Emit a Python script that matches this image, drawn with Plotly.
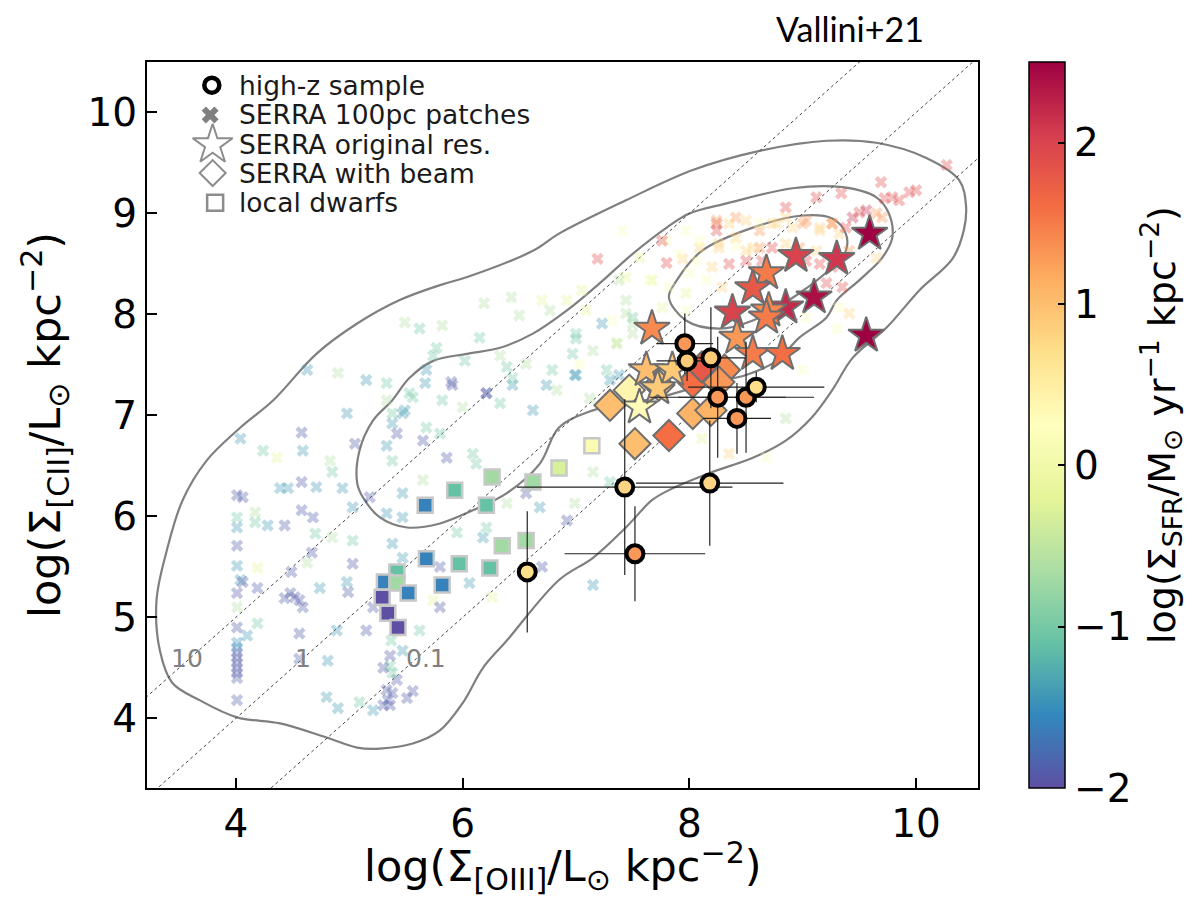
import math
import plotly.graph_objects as go

# ---------------- data ----------------
# SERRA 100pc patches: log Sigma_OIII, log Sigma_CII, log Sigma_SFR
patch_x = [4.98,4.58,4.04,4.24,4.59,4.36,4.83,4.85,5.05,4.58,4.39,4.46,4.71,4.94,4.01,4.06,4.58,4.17,4.01,4.28,
           4.43,4.68,4.17,4.01,4.01,4.70,4.85,5.03,4.67,4.63,4.01,4.19,4.49,4.04,4.06,4.01,4.19,4.48,4.52,4.56,
           4.59,4.43,4.74,4.98,4.99,5.03,4.01,4.01,4.19,4.10,4.56,4.89,5.15,5.21,
           4.01,4.01,4.01,4.01,4.01,4.01,4.01,4.01,4.01,
           4.81,4.56,4.80,4.90,5.09,5.21,5.30,5.36,5.34,5.38,5.33,5.42,5.38,5.36,5.30,5.36,5.47,5.37,5.51,5.56,
           5.33,5.38,5.47,5.56,5.68,5.65,5.38,5.33,5.42,5.80,5.86,6.09,6.12,5.65,5.47,5.38,5.47,5.33,5.18,5.03,
           6.21,5.95,5.38,5.47,5.80,6.06,6.39,6.56,6.68,6.70,6.26,5.74,5.80,5.62,6.18,5.91,6.21,6.44,
           7.41,7.19,7.80,7.94,7.80,7.44,7.05,6.70,6.92,6.43,6.19,6.50,6.77,5.49,5.62,5.82,6.15,5.77,5.74,6.02,
           6.33,6.39,6.56,6.79,7.00,7.23,7.32,7.44,7.50,7.15,7.36,7.03,7.09,5.67,5.90,6.21,6.44,6.74,6.99,5.53,
           5.82,6.33,6.62,6.83,5.49,6.00,7.27,7.50,7.65,7.56,
           4.63,4.90,5.15,5.33,5.68,
           7.00,7.36,7.00,7.30,7.38,7.12,6.97,6.92,6.99,7.15,7.30,8.35,8.68,8.85,7.15,8.11,9.00,
           10.27,9.69,9.94,10.00,9.72,9.79,9.85,9.34,9.12,8.85,9.44,9.50,9.56,9.65,9.70,8.24,8.41,8.62,8.77,8.91,
           9.03,9.15,9.26,9.32,8.09,8.26,8.41,8.50,8.62,8.73,
           8.24,8.24,8.35,8.50,8.62,8.73,8.85,9.00,9.15,9.26,9.38,7.97,8.09,7.76,8.26,8.41,8.56,8.85,8.97,9.12,
           9.41,8.35,8.50,8.64,9.03,9.15,9.26,7.91,8.06,8.20,8.00,8.15,8.29,7.67,7.82,7.97,7.76,7.97,7.50,7.44,
           7.38,9.21,9.35,9.03,9.32,9.41,9.65,9.30]
patch_y = [7.02,6.83,6.77,6.65,6.65,6.58,6.55,6.44,6.72,6.34,6.28,6.28,6.29,6.28,6.21,6.19,6.06,6.04,5.99,5.91,
           5.91,5.99,5.94,5.89,5.71,5.83,5.79,5.76,5.64,5.54,5.51,5.49,5.45,5.37,5.35,5.24,5.29,5.24,5.20,5.17,
           5.10,5.19,5.29,5.35,5.25,5.53,5.10,4.90,4.94,4.82,4.84,4.87,4.87,5.10,
           4.75,4.70,4.65,4.60,4.55,4.50,4.45,4.40,4.18,
           4.57,4.59,4.21,4.10,4.16,4.08,4.13,4.13,4.18,4.25,4.28,4.38,4.45,4.52,4.50,4.62,4.67,4.77,4.20,4.27,
           7.15,7.02,7.02,7.18,6.88,6.75,6.92,6.70,6.82,6.82,6.58,6.62,6.52,6.36,6.23,6.55,5.99,6.03,6.19,6.09,
           5.89,5.84,5.73,5.59,5.50,5.34,6.13,6.23,6.09,5.50,5.20,5.17,5.10,4.87,5.79,7.30,7.22,7.30,
           8.83,8.55,8.51,8.55,8.73,8.37,8.24,8.14,8.14,8.17,8.11,7.99,8.04,7.92,7.86,7.89,7.77,7.67,7.59,7.54,
           7.59,7.48,7.51,7.45,7.76,7.91,7.94,8.14,7.97,7.64,7.72,7.51,8.04,7.32,7.33,7.22,7.37,7.30,7.40,7.22,
           7.15,7.12,7.05,7.25,7.05,7.08,7.45,7.81,8.34,8.56,
           7.45,7.42,7.35,7.32,7.45,
           7.81,7.71,7.40,7.35,7.40,7.17,7.61,5.96,6.13,6.44,6.34,6.62,6.58,6.97,5.32,6.77,7.45,
           9.48,9.31,9.21,9.23,9.15,9.16,9.13,9.20,9.16,9.06,8.96,9.01,9.03,9.00,8.96,8.90,8.96,8.83,8.90,8.86,
           8.93,8.83,8.90,8.80,8.66,8.70,8.76,8.63,8.66,8.66,
           8.93,8.83,8.90,8.93,8.90,8.90,8.96,8.90,8.86,8.90,8.86,8.83,8.73,8.73,8.66,8.68,8.66,8.70,8.66,8.63,
           8.63,8.50,8.53,8.53,8.53,8.50,8.47,8.60,8.53,8.47,8.41,8.34,8.27,8.34,8.27,8.21,8.07,8.04,7.91,8.01,
           8.34,8.31,8.27,7.97,8.07,8.01,8.56,7.86]
patch_sfr = [-1.4,-1.9,-1.4,-1.0,-1.4,-0.2,-0.6,-1.0,-1.9,-1.9,-1.4,-1.4,-1.4,-1.4,-1.9,-1.9,-1.9,-0.6,-1.0,-1.4,
             -1.9,-1.9,-1.0,-1.4,-1.9,-1.0,-0.6,-1.0,-1.9,-0.6,-1.4,-0.2,-1.9,-1.4,-1.9,-1.9,-1.9,-1.9,-1.9,-1.9,
             -1.9,-1.9,-1.4,-1.4,-1.9,-1.9,-0.6,-1.9,-1.0,-1.4,-1.9,-1.4,-1.9,-1.9,
             -1.5,-1.5,-1.9,-1.9,-1.9,-1.9,-1.9,-1.9,-1.9,
             -1.4,-1.9,-1.4,-1.4,-1.0,-1.4,-1.9,-1.9,-1.9,-1.9,-1.9,-1.9,-1.0,-1.0,-1.9,-1.9,-1.4,-1.0,-1.9,-1.9,
             -0.6,-1.0,-1.4,-1.0,-1.0,-1.9,-1.4,-1.4,-1.9,-1.0,-1.9,-1.0,-1.0,-0.6,-1.4,-1.0,-1.4,-1.4,-1.9,-1.4,
             -1.0,-1.0,-1.4,-1.4,-1.9,-1.4,-0.6,-1.9,-1.4,-1.9,-0.2,-0.2,-1.9,-1.0,-1.4,-1.9,-1.9,-1.4,
             0.2,1.9,1.9,0.8,0.2,-0.2,-0.2,-0.2,-0.2,-0.6,-0.6,-0.6,-0.6,-0.6,-1.0,-0.6,-1.0,-1.0,-1.0,-1.0,
             -0.6,-1.0,-0.6,-1.0,-1.0,-1.4,0.2,-0.6,-1.0,-0.6,-0.2,0.2,-0.2,-1.4,-1.9,-1.9,-1.0,-1.4,-1.4,-1.0,
             -1.0,-1.0,-1.4,-0.6,-1.4,-0.6,-1.0,-0.6,0.2,-0.2,
             -1.4,-0.6,-1.4,-1.0,-1.4,
             -1.0,-0.6,-1.4,-1.4,-1.4,-0.6,-1.0,-1.9,-0.6,-0.6,-1.0,0.8,0.2,-0.6,-1.4,-0.2,0.2,
             1.9,1.9,1.9,1.9,1.9,1.9,1.9,1.9,1.9,1.9,2.2,1.9,2.2,1.3,1.3,1.9,1.3,1.3,0.8,0.8,
             1.3,0.8,1.3,0.8,0.8,0.8,0.8,0.8,1.3,1.9,
             1.3,1.9,0.8,0.8,0.2,0.8,0.8,1.3,0.8,1.3,1.9,0.2,0.2,1.9,0.8,0.2,0.8,0.8,1.3,0.8,
             1.3,1.9,1.9,1.9,1.9,1.9,1.9,0.2,0.2,0.8,0.2,0.2,0.8,-0.2,0.2,-0.2,-0.2,0.2,-0.6,-0.6,
             -0.6,1.9,1.9,0.2,0.2,0.8,0.8,0.2]

# SERRA original resolution (stars)
star_x = [9.59,8.94,9.30,8.68,8.56,9.10,8.85,8.70,8.68,8.38,9.56,7.67,8.42,8.56,8.82,7.62,7.85,7.56,7.72]
star_y = [8.80,8.58,8.55,8.41,8.26,8.17,8.07,8.04,7.97,8.02,7.79,7.86,7.77,7.61,7.61,7.45,7.45,7.08,7.27]
star_sfr = [2.5,2.0,2.1,1.5,1.8,2.4,2.2,1.4,1.5,2.0,2.5,1.4,1.3,1.5,1.6,1.0,0.9,0.3,0.9]

# SERRA with beam (diamonds)
beam_x = [7.30,7.47,7.52,7.82,8.03,8.19,8.03,8.31,8.11,8.26,7.73]
beam_y = [7.10,7.25,6.72,6.80,7.02,7.05,7.33,7.45,7.48,7.33,7.30]
beam_sfr = [1.0,0.4,1.0,1.6,1.1,1.1,1.6,1.4,1.8,1.3,1.0]

# local dwarfs (squares)
dwarf_x = [5.67,5.93,6.26,6.21,6.62,6.85,7.14,5.68,5.97,6.24,6.35,6.56,5.82,5.42,5.31,5.42,5.52,5.29,5.34,5.43]
dwarf_y = [6.11,6.26,6.39,6.11,6.34,6.48,6.70,5.58,5.53,5.49,5.71,5.76,5.32,5.45,5.35,5.34,5.24,5.20,5.04,4.90]
dwarf_sfr = [-1.6,-1.1,-0.7,-1.1,-0.7,-0.3,0.1,-1.6,-1.1,-1.1,-0.7,-0.7,-1.6,-1.1,-1.6,-0.7,-1.6,-2.0,-2.0,-2.0]

# high-z sample (circles with error bars)
hz_x = [7.96,7.98,8.19,8.25,8.50,8.59,8.42,7.43,8.18,7.52,6.57]
hz_y = [7.71,7.54,7.57,7.18,7.18,7.28,6.97,6.29,6.33,5.63,5.45]
hz_xerr = [0.25,0.27,0.30,0.60,0.60,0.60,0.30,0.95,0.65,0.62,0.0]
hz_yerr = [0.30,0.20,0.50,0.60,0.55,0.15,0.35,0.87,0.62,0.47,0.60]
hz_sfr = [1.3,0.9,0.9,1.3,1.3,0.7,1.3,0.8,0.8,1.3,0.7]

# density contours of SERRA patches
cont_outer_x = [3.33,3.30,3.39,3.53,3.74,4.04,4.33,4.71,5.07,5.44,5.80,6.04,6.62,6.85,7.44,8.03,8.62,9.21,9.65,10.09,
                10.38,10.44,10.42,10.32,10.03,9.74,9.44,9.26,9.08,8.85,8.56,8.18,7.82,7.67,7.44,7.15,6.85,6.39,6.18,
                6.00,5.80,5.56,5.27,5.07,4.80,4.39,4.01,3.68,3.44,3.33]
cont_outer_y = [4.67,5.17,5.66,6.16,6.55,6.88,7.15,7.61,7.91,8.14,8.29,8.37,8.63,8.80,9.13,9.43,9.62,9.72,9.70,9.55,
                9.33,9.08,8.83,8.55,8.24,7.87,7.57,7.25,6.98,6.75,6.58,6.43,6.26,6.16,5.89,5.59,5.37,4.77,4.50,
                4.15,3.88,3.75,3.70,3.71,3.81,3.95,4.01,4.18,4.35,4.67]
cont_mid_x = [5.07,5.09,5.21,5.38,5.53,5.74,6.04,6.33,6.62,6.92,7.21,7.50,7.80,8.00,8.33,8.91,9.35,9.65,9.76,9.79,
              9.70,9.50,9.30,9.21,8.97,8.77,8.50,8.18,7.74,7.44,7.15,6.85,6.68,6.39,6.09,5.80,5.51,5.27,5.12,5.07]
cont_mid_y = [6.33,6.65,6.95,7.15,7.37,7.54,7.61,7.67,7.81,8.04,8.31,8.60,8.86,9.00,9.10,9.25,9.26,9.16,9.00,8.76,
              8.56,8.34,8.14,7.97,7.77,7.54,7.40,7.32,7.18,7.12,7.05,6.88,6.52,6.23,6.06,5.93,5.89,5.99,6.19,6.33]
cont_inner_x = [7.82,7.89,8.11,8.56,9.00,9.26,9.38,9.38,9.26,8.97,8.56,8.26,7.97,7.82]
cont_inner_y = [8.17,8.34,8.63,8.86,8.98,8.95,8.80,8.63,8.47,8.21,7.94,7.86,7.94,8.17]

# constant [CII]/[OIII] ratio lines
ratio_values = [10, 1, 0.1]
ratio_labels = ["10", "1", "0.1"]
ratio_label_x = [3.57, 4.59, 5.68]
ratio_label_y = 4.59

# legend entries
legend_names = ["high-z sample", "SERRA 100pc patches", "SERRA original res.", "SERRA with beam", "local dwarfs"]

X_RANGE = [3.216, 10.546]
Y_RANGE = [3.31, 10.5]
C_MIN, C_MAX = -2.0, 2.5

fig = go.Figure()

# contours
for cx, cy in [(cont_outer_x, cont_outer_y), (cont_mid_x, cont_mid_y), (cont_inner_x, cont_inner_y)]:
    fig.add_trace(go.Scatter(x=cx, y=cy, mode="lines", line=dict(color="#7f7f7f", width=2.2, shape="spline", smoothing=1.0),
                             showlegend=False, hoverinfo="skip"))

# ratio lines
for r in ratio_values:
    off = math.log10(r)
    lx = [X_RANGE[0] - 1, X_RANGE[1] + 1]
    fig.add_trace(go.Scatter(x=lx, y=[v + off for v in lx], mode="lines",
                             line=dict(color="#444444", width=1, dash="dot"), showlegend=False, hoverinfo="skip"))

cs = "Spectral"

# patches
fig.add_trace(go.Scatter(x=patch_x, y=patch_y, mode="markers", showlegend=False,
                         marker=dict(symbol="x", size=11, color=patch_sfr, colorscale=cs, reversescale=True,
                                     cmin=C_MIN, cmax=C_MAX, opacity=0.35, line=dict(width=0))))
# dwarfs
fig.add_trace(go.Scatter(x=dwarf_x, y=dwarf_y, mode="markers", showlegend=False,
                         marker=dict(symbol="square", size=15, color=dwarf_sfr, colorscale=cs, reversescale=True,
                                     cmin=C_MIN, cmax=C_MAX, line=dict(color="#c8c8c8", width=2.5))))
# beam diamonds
fig.add_trace(go.Scatter(x=beam_x, y=beam_y, mode="markers", showlegend=False,
                         marker=dict(symbol="diamond", size=24, color=beam_sfr, colorscale=cs, reversescale=True,
                                     cmin=C_MIN, cmax=C_MAX, line=dict(color="#6e6e6e", width=2))))
# stars
fig.add_trace(go.Scatter(x=star_x, y=star_y, mode="markers", showlegend=False,
                         marker=dict(symbol="star", size=27, color=star_sfr, colorscale=cs, reversescale=True,
                                     cmin=C_MIN, cmax=C_MAX, line=dict(color="#6e6e6e", width=2))))
# high-z
fig.add_trace(go.Scatter(x=hz_x, y=hz_y, mode="markers", showlegend=False,
                         error_x=dict(type="data", array=hz_xerr, color="#222222", thickness=1.2, width=0),
                         error_y=dict(type="data", array=hz_yerr, color="#222222", thickness=1.2, width=0),
                         marker=dict(symbol="circle", size=17, color=hz_sfr, colorscale=cs, reversescale=True,
                                     cmin=C_MIN, cmax=C_MAX, line=dict(color="black", width=4),
                                     colorbar=dict(thickness=36, len=1.0, lenmode="fraction", y=0.5, yanchor="middle",
                                                   x=1.061, xanchor="left", xpad=0, ypad=0,
                                                   outlinewidth=1.5, outlinecolor="black",
                                                   tickvals=[-2, -1, 0, 1, 2], ticktext=["\u22122", "\u22121", "0", "1", "2"],
                                                   ticks="inside", ticklen=7, tickwidth=1.5, tickcolor="black",
                                                   tickfont=dict(family="DejaVu Sans", size=39, color="black"),
                                                   title=dict(text="log(\u03a3<sub>SFR</sub>/M<sub>\u2299</sub> yr<sup>\u22121</sup> kpc<sup>\u22122</sup>)",
                                                              side="right", font=dict(family="DejaVu Sans", size=38, color="black"))))))

# legend drawn on an overlay axis spanning the plot area (0..1 in both directions)
leg_marker_x = [0.078, 0.076, 0.079, 0.079, 0.082]
leg_row_y = [0.968, 0.927, 0.886, 0.847, 0.806]
leg_markers = [dict(symbol="circle-open", size=15, color="black", line=dict(width=4.5, color="black")),
               dict(symbol="x", size=15, color="#808080", line=dict(width=0)),
               dict(symbol="star-open", size=30, color="#8c8c8c", line=dict(width=2, color="#8c8c8c")),
               dict(symbol="diamond-open", size=20, color="#8c8c8c", line=dict(width=2, color="#8c8c8c")),
               dict(symbol="square-open", size=16, color="#8c8c8c", line=dict(width=2.5, color="#8c8c8c"))]
for name, mx, my, mk in zip(legend_names, leg_marker_x, leg_row_y, leg_markers):
    fig.add_trace(go.Scatter(x=[mx], y=[my], xaxis="x2", yaxis="y2", mode="markers", name=name,
                             marker=mk, showlegend=False, hoverinfo="skip"))
    fig.add_annotation(xref="paper", yref="paper", x=0.1083, y=my, text=name, showarrow=False,
                       xanchor="left", yanchor="middle", font=dict(family="DejaVu Sans", size=26.5, color="#1a1a1a"))

for lab, lx in zip(ratio_labels, ratio_label_x):
    fig.add_annotation(x=lx, y=ratio_label_y, text=lab, showarrow=False, xref="x", yref="y",
                       font=dict(family="DejaVu Sans", size=25, color="#808080"))

fig.add_annotation(xref="paper", yref="paper", x=(850 - 147) / 831, y=1 + (62 - 28) / 726,
                   text="Vallini+21", showarrow=False, xanchor="center", yanchor="middle",
                   font=dict(family="Lato", size=34, color="black"))

# axis titles
fig.add_annotation(xref="paper", yref="paper", x=0.5, y=-(866 - 788) / 726, showarrow=False,
                   xanchor="center", yanchor="middle",
                   text="log(\u03a3<sub>[OIII]</sub>/L<sub>\u2299</sub> kpc<sup>\u22122</sup>)",
                   font=dict(family="DejaVu Sans", size=43, color="black"))
fig.add_annotation(xref="paper", yref="paper", x=-(147 - 45) / 831, y=0.5, showarrow=False, textangle=-90,
                   xanchor="center", yanchor="middle",
                   text="log(\u03a3<sub>[CII]</sub>/L<sub>\u2299</sub> kpc<sup>\u22122</sup>)",
                   font=dict(family="DejaVu Sans", size=43, color="black"))

axis_common = dict(showgrid=False, zeroline=False, showline=True, linecolor="black", linewidth=2, mirror=True,
                   ticks="inside", ticklen=10, tickwidth=2, tickcolor="black",
                   tickfont=dict(family="DejaVu Sans", size=39, color="black"))
fig.update_xaxes(range=X_RANGE, tickvals=[4, 6, 8, 10], **axis_common)
fig.update_yaxes(range=Y_RANGE, tickvals=[4, 5, 6, 7, 8, 9, 10], **axis_common)

fig.update_layout(width=1199, height=901, margin=dict(l=147, r=221, t=62, b=113, autoexpand=False),
                  plot_bgcolor="white", paper_bgcolor="white", showlegend=False,
                  xaxis2=dict(overlaying="x", range=[0, 1], visible=False, fixedrange=True),
                  yaxis2=dict(overlaying="y", range=[0, 1], visible=False, fixedrange=True))

fig.write_html("out.html")
